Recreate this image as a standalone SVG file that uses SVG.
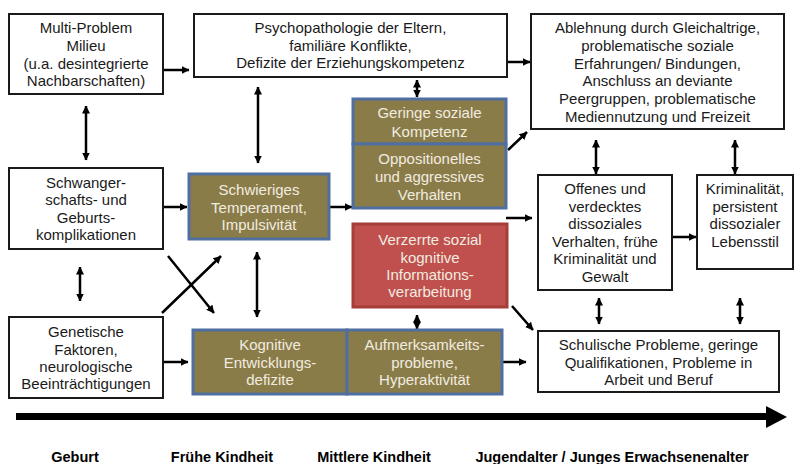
<svg xmlns="http://www.w3.org/2000/svg" width="794" height="464" viewBox="0 0 794 464">
<defs>
<marker id="ah" viewBox="0 0 8 8" refX="7.5" refY="4" markerWidth="8" markerHeight="8" markerUnits="userSpaceOnUse" orient="auto-start-reverse">
<path d="M0,0 L8,4 L0,8 z" fill="#000"/>
</marker>
<style>
.wb{fill:#fff;stroke:#1a1a1a;stroke-width:2}
.ol{fill:#8a7c48;stroke:#4f6fa0;stroke-width:3}
.rd{fill:#c0504d;stroke:#a53e3b;stroke-width:3}
text{font-family:"Liberation Sans",Arial,sans-serif;font-size:15px;text-anchor:middle}
.bk{fill:#1a1a1a}
.lt{fill:#f1ece0}
.tl{font-weight:bold;font-size:14.5px;fill:#000}
.c{stroke:#000;stroke-width:2.5;fill:none}
.one{marker-end:url(#ah)}
.two{marker-start:url(#ah);marker-end:url(#ah)}
</style>
</defs>
<rect width="794" height="464" fill="#fff"/>

<g id="connectors">
<line class="c one" x1="163" y1="70" x2="189" y2="70"/>
<line class="c one" x1="507" y1="62" x2="530" y2="62"/>
<line class="c two" x1="86" y1="106" x2="86" y2="160"/>
<line class="c two" x1="258" y1="87" x2="258" y2="163"/>
<line class="c two" x1="417" y1="80" x2="417" y2="97"/>
<line class="c one" x1="508" y1="150" x2="527" y2="132"/>
<line class="c one" x1="163" y1="207" x2="187" y2="207"/>
<line class="c one" x1="329" y1="207" x2="352" y2="207"/>
<line class="c one" x1="506" y1="218" x2="532" y2="218"/>
<line class="c one" x1="672" y1="237" x2="696" y2="237"/>
<line class="c two" x1="596" y1="140" x2="596" y2="174"/>
<line class="c two" x1="735" y1="140" x2="735" y2="174"/>
<line class="c two" x1="599" y1="298" x2="599" y2="324"/>
<line class="c two" x1="740" y1="298" x2="740" y2="324"/>
<line class="c one" x1="512" y1="306" x2="533" y2="330"/>
<line class="c two" x1="417" y1="315" x2="417" y2="329"/>
<line class="c one" x1="502" y1="362" x2="526" y2="362"/>
<line class="c one" x1="163" y1="362" x2="188" y2="362"/>
<line class="c two" x1="80" y1="267" x2="80" y2="301"/>
<line class="c two" x1="257" y1="252" x2="257" y2="317"/>
<line class="c one" x1="168" y1="256" x2="214" y2="313"/>
<line class="c one" x1="162" y1="313" x2="221" y2="256"/>
<line x1="16" y1="416.5" x2="768" y2="416.5" stroke="#000" stroke-width="7"/>
<polygon points="766,406 787,417 766,428" fill="#000"/>
</g>

<g id="multi-problem">
<rect class="wb" x="9" y="14" width="154" height="80"/>
<text class="bk"><tspan x="86" y="33">Multi-Problem</tspan><tspan x="86" y="51">Milieu</tspan><tspan x="86" y="68.5">(u.a. desintegrierte</tspan><tspan x="86" y="86">Nachbarschaften)</tspan></text>
</g>

<g id="psychopathologie">
<rect class="wb" x="194" y="14" width="313" height="63"/>
<text class="bk"><tspan x="350.5" y="33">Psychopathologie der Eltern,</tspan><tspan x="350.5" y="51">familiäre Konflikte,</tspan><tspan x="350.5" y="68">Defizite der Erziehungskompetenz</tspan></text>
</g>

<g id="ablehnung">
<rect class="wb" x="531" y="14" width="253" height="115"/>
<text class="bk"><tspan x="657.5" y="33">Ablehnung durch Gleichaltrige,</tspan><tspan x="657.5" y="51">problematische soziale</tspan><tspan x="657.5" y="68.5">Erfahrungen/ Bindungen,</tspan><tspan x="657.5" y="86">Anschluss an deviante</tspan><tspan x="657.5" y="104">Peergruppen, problematische</tspan><tspan x="657.5" y="121.5">Mediennutzung und Freizeit</tspan></text>
</g>

<g id="geringe-kompetenz">
<rect class="ol" x="353" y="99" width="153" height="45"/>
<text class="lt"><tspan x="429.5" y="118">Geringe soziale</tspan><tspan x="429.5" y="136.5">Kompetenz</tspan></text>
</g>

<g id="oppositionelles">
<rect class="ol" x="353" y="144" width="153" height="64"/>
<text class="lt"><tspan x="429.5" y="164">Oppositionelles</tspan><tspan x="429.5" y="182">und aggressives</tspan><tspan x="429.5" y="200">Verhalten</tspan></text>
</g>

<g id="schwangerschaft">
<rect class="wb" x="9" y="168" width="154" height="81"/>
<text class="bk"><tspan x="86" y="187.5">Schwanger-</tspan><tspan x="86" y="205">schafts- und</tspan><tspan x="86" y="222.5">Geburts-</tspan><tspan x="86" y="240">komplikationen</tspan></text>
</g>

<g id="temperament">
<rect class="ol" x="189" y="174" width="140" height="65"/>
<text class="lt"><tspan x="259" y="195">Schwieriges</tspan><tspan x="259" y="212.5">Temperament,</tspan><tspan x="259" y="230">Impulsivität</tspan></text>
</g>

<g id="verzerrte">
<rect class="rd" x="353" y="224" width="154" height="83"/>
<text class="lt"><tspan x="430" y="245">Verzerrte sozial</tspan><tspan x="430" y="262.5">kognitive</tspan><tspan x="430" y="280">Informations-</tspan><tspan x="430" y="297">verarbeitung</tspan></text>
</g>

<g id="offenes">
<rect class="wb" x="538" y="175" width="134" height="115"/>
<text class="bk"><tspan x="605" y="194">Offenes und</tspan><tspan x="605" y="212">verdecktes</tspan><tspan x="605" y="229">dissoziales</tspan><tspan x="605" y="247">Verhalten, frühe</tspan><tspan x="605" y="264">Kriminalität und</tspan><tspan x="605" y="282">Gewalt</tspan></text>
</g>

<g id="kriminalitaet">
<rect class="wb" x="697" y="175" width="96" height="94"/>
<text class="bk"><tspan x="745" y="194">Kriminalität,</tspan><tspan x="745" y="212">persistent</tspan><tspan x="745" y="229">dissozialer</tspan><tspan x="745" y="247">Lebensstil</tspan></text>
</g>

<g id="genetische">
<rect class="wb" x="9" y="317" width="154" height="81"/>
<text class="bk"><tspan x="86" y="337">Genetische</tspan><tspan x="86" y="354.5">Faktoren,</tspan><tspan x="86" y="372">neurologische</tspan><tspan x="86" y="389">Beeinträchtigungen</tspan></text>
</g>

<g id="kognitive">
<rect class="ol" x="193" y="330" width="154" height="64"/>
<text class="lt"><tspan x="270" y="350">Kognitive</tspan><tspan x="270" y="368">Entwicklungs-</tspan><tspan x="270" y="385">defizite</tspan></text>
</g>

<g id="aufmerksamkeit">
<rect class="ol" x="347" y="330" width="155" height="64"/>
<text class="lt"><tspan x="424.5" y="350">Aufmerksamkeits-</tspan><tspan x="424.5" y="368">probleme,</tspan><tspan x="424.5" y="385">Hyperaktivität</tspan></text>
</g>

<g id="schulische">
<rect class="wb" x="538" y="331" width="241" height="61"/>
<text class="bk"><tspan x="658.5" y="350">Schulische Probleme, geringe</tspan><tspan x="658.5" y="368">Qualifikationen, Probleme in</tspan><tspan x="658.5" y="385">Arbeit und Beruf</tspan></text>
</g>

<g id="timeline-labels">
<text class="tl" x="75" y="462">Geburt</text>
<text class="tl" x="222" y="462">Frühe Kindheit</text>
<text class="tl" x="374" y="462">Mittlere Kindheit</text>
<text class="tl" x="612" y="462">Jugendalter / Junges Erwachsenenalter</text>
</g>
</svg>
